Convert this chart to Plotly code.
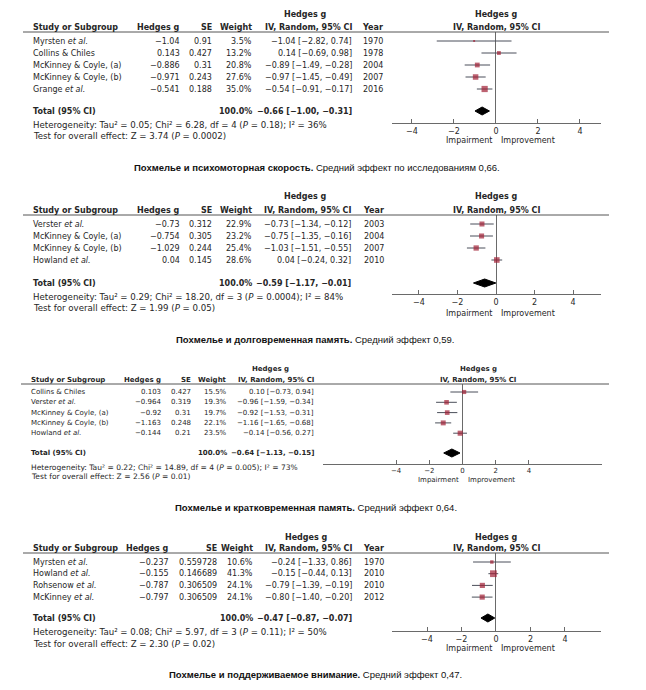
import math
import plotly.graph_objects as go

PAGE_W, PAGE_H = 646, 690
BODY = 8  # default body margin of the written page
W, H = PAGE_W - 2 * BODY, PAGE_H - 2 * BODY
MAROON = "#a11f35"
TXT = "#262626"
LINE = "#6a6a6a"
CI_COL = "#4b4f5a"
FONT = "DejaVu Sans"
CAP_FONT = "Liberation Sans"

# ---------------- data ----------------
# Panel 1: psychomotor speed
p1_study = ["Myrsten <i>et al.</i>", "Collins & Chiles", "McKinney & Coyle, (a)",
            "McKinney & Coyle, (b)", "Grange <i>et al.</i>"]
p1_g = [-1.04, 0.143, -0.886, -0.971, -0.541]
p1_se = [0.91, 0.427, 0.31, 0.243, 0.188]
p1_weight = [3.5, 13.2, 20.8, 27.6, 35.0]
p1_est = [-1.04, 0.14, -0.89, -0.97, -0.54]
p1_lo = [-2.82, -0.69, -1.49, -1.45, -0.91]
p1_hi = [0.74, 0.98, -0.28, -0.49, -0.17]
p1_year = [1970, 1978, 2004, 2007, 2016]
p1_total = [-0.66, -1.00, -0.31]
p1_total_weight = 100.0
p1_het = "Heterogeneity: Tau² = 0.05; Chi² = 6.28, df = 4 (<i>P</i> = 0.18); I² = 36%"
p1_test = "Test for overall effect: Z = 3.74 (<i>P</i> = 0.0002)"
p1_cap_b = "Похмелье и психомоторная скорость."
p1_cap = " Средний эффект по исследованиям 0,66."

# Panel 2: long-term memory
p2_study = ["Verster <i>et al.</i>", "McKinney & Coyle, (a)", "McKinney & Coyle, (b)",
            "Howland <i>et al.</i>"]
p2_g = [-0.73, -0.754, -1.029, 0.04]
p2_se = [0.312, 0.305, 0.244, 0.145]
p2_weight = [22.9, 23.2, 25.4, 28.6]
p2_est = [-0.73, -0.75, -1.03, 0.04]
p2_lo = [-1.34, -1.35, -1.51, -0.24]
p2_hi = [-0.12, -0.16, -0.55, 0.32]
p2_year = [2003, 2004, 2007, 2010]
p2_total = [-0.59, -1.17, -0.01]
p2_total_weight = 100.0
p2_het = "Heterogeneity: Tau² = 0.29; Chi² = 18.20, df = 3 (<i>P</i> = 0.0004); I² = 84%"
p2_test = "Test for overall effect: Z = 1.99 (<i>P</i> = 0.05)"
p2_cap_b = "Похмелье и долговременная память."
p2_cap = " Средний эффект 0,59."

# Panel 3: short-term memory
p3_study = ["Collins & Chiles", "Verster <i>et al.</i>", "McKinney & Coyle, (a)",
            "McKinney & Coyle, (b)", "Howland <i>et al.</i>"]
p3_g = [0.103, -0.964, -0.92, -1.163, -0.144]
p3_se = [0.427, 0.319, 0.31, 0.248, 0.21]
p3_weight = [15.5, 19.3, 19.7, 22.1, 23.5]
p3_est = [0.10, -0.96, -0.92, -1.16, -0.14]
p3_lo = [-0.73, -1.59, -1.53, -1.65, -0.56]
p3_hi = [0.94, -0.34, -0.31, -0.68, 0.27]
p3_year = None
p3_total = [-0.64, -1.13, -0.15]
p3_total_weight = 100.0
p3_het = "Heterogeneity: Tau² = 0.22; Chi² = 14.89, df = 4 (<i>P</i> = 0.005); I² = 73%"
p3_test = "Test for overall effect: Z = 2.56 (<i>P</i> = 0.01)"
p3_cap_b = "Похмелье и кратковременная память."
p3_cap = " Средний эффект 0,64."

# Panel 4: sustained attention
p4_study = ["Myrsten <i>et al.</i>", "Howland <i>et al.</i>", "Rohsenow <i>et al.</i>",
            "McKinney <i>et al.</i>"]
p4_g = [-0.237, -0.155, -0.787, -0.797]
p4_se = ["0.559728", "0.146689", "0.306509", "0.306509"]
p4_weight = [10.6, 41.3, 24.1, 24.1]
p4_est = [-0.24, -0.15, -0.79, -0.80]
p4_lo = [-1.33, -0.44, -1.39, -1.40]
p4_hi = [0.86, 0.13, -0.19, -0.20]
p4_year = [1970, 2010, 2010, 2012]
p4_total = [-0.47, -0.87, -0.07]
p4_total_weight = 100.0
p4_het = "Heterogeneity: Tau² = 0.08; Chi² = 5.97, df = 3 (<i>P</i> = 0.11); I² = 50%"
p4_test = "Test for overall effect: Z = 2.30 (<i>P</i> = 0.02)"
p4_cap_b = "Похмелье и поддерживаемое внимание."
p4_cap = " Средний эффект 0,47."

tick_vals = [-4, -2, 0, 2, 4]

# ---------------- layout geometry (page pixels) ----------------
geoms = [
    dict(r0=41, s=12, tot=111, line=32, axis=123, xdom=(392, 601), xr=(-4.95, 5.0),
         cols=(31, 182, 214, 254, 354, 385), fs=8, top_y=15, hdr_y=27, hdr_cx=305,
         plot_cx=496, het_y=125, test_y=136, imp_y=140, cap_y=167, cap_cx=317),
    dict(r0=224, s=12, tot=283, line=215, axis=294, xdom=(392, 601), xr=(-5.4, 5.45),
         cols=(31, 182, 214, 254, 353, 386), fs=8, top_y=197, hdr_y=210, hdr_cx=305,
         plot_cx=496, het_y=297, test_y=308, imp_y=313, cap_y=339, cap_cx=315),
    dict(r0=392, s=10.3, tot=453, line=384, axis=464, xdom=(323, 602), xr=(-8.4, 8.4),
         cols=(29, 163, 193, 229, 316, None), fs=7, top_y=369, hdr_y=380, hdr_cx=270,
         plot_cx=478, het_y=467, test_y=476, imp_y=480, cap_y=507, cap_cx=316),
    dict(r0=562, s=11.7, tot=618, line=553, axis=631, xdom=(392, 601), xr=(-6.03, 6.09),
         cols=(31, 171, 219, 255, 354, 386), fs=8, top_y=537, hdr_y=548, hdr_cx=306,
         plot_cx=496, het_y=632, test_y=644, imp_y=648, cap_y=674, cap_cx=315),
]

panels = [
    (p1_study, p1_g, p1_se, p1_weight, p1_est, p1_lo, p1_hi, p1_year, p1_total, p1_total_weight, p1_het, p1_test, p1_cap_b, p1_cap),
    (p2_study, p2_g, p2_se, p2_weight, p2_est, p2_lo, p2_hi, p2_year, p2_total, p2_total_weight, p2_het, p2_test, p2_cap_b, p2_cap),
    (p3_study, p3_g, p3_se, p3_weight, p3_est, p3_lo, p3_hi, p3_year, p3_total, p3_total_weight, p3_het, p3_test, p3_cap_b, p3_cap),
    (p4_study, p4_g, p4_se, p4_weight, p4_est, p4_lo, p4_hi, p4_year, p4_total, p4_total_weight, p4_het, p4_test, p4_cap_b, p4_cap),
]


def px(x):
    return (x - BODY) / W


def py(y):
    return 1 - (y - BODY) / H


def m(v):
    return str(v).replace("-", "−")


def f2(v):
    return f"{v:.2f}".replace("-", "−")


fig = go.Figure()
annotations = []
shapes = []
layout_axes = {}

for k, (pdata, g) in enumerate(zip(panels, geoms), start=1):
    study, hg, se, wt, est, lo, hi, year, total, tw, het, test, cap_b, cap = pdata
    n = len(study)
    xa = "x" if k == 1 else f"x{k}"
    ya = "y" if k == 1 else f"y{k}"
    xname = "xaxis" if k == 1 else f"xaxis{k}"
    yname = "yaxis" if k == 1 else f"yaxis{k}"
    fs = g["fs"]
    font = dict(family=FONT, size=fs, color=TXT)
    foot_font = dict(family=FONT, size=fs * 1.08, color=TXT)
    rows = list(range(n))
    t_idx = (g["tot"] - g["r0"]) / g["s"]
    y_bottom = (g["axis"] - g["r0"]) / g["s"]
    y_top = (g["line"] - g["r0"]) / g["s"]

    layout_axes[yname] = dict(domain=[py(g["axis"]), py(g["line"])], range=[y_bottom, y_top],
                              visible=False, anchor=xa, fixedrange=True)
    layout_axes[xname] = dict(domain=[px(g["xdom"][0]), px(g["xdom"][1])], range=list(g["xr"]),
                              anchor=ya, showline=True, linecolor=LINE, linewidth=1,
                              ticks="inside", ticklen=4, tickcolor=LINE, tickwidth=1,
                              tickvals=tick_vals, showgrid=False, zeroline=True,
                              zerolinecolor=LINE, zerolinewidth=1,
                              tickfont=dict(family=FONT, size=fs, color=TXT),
                              ticklabelstandoff=0)

    # confidence intervals
    ci_x, ci_y = [], []
    for i in rows:
        ci_x += [lo[i], hi[i], None]
        ci_y += [i, i, None]
    fig.add_trace(go.Scatter(x=ci_x, y=ci_y, xaxis=xa, yaxis=ya, mode="lines",
                             line=dict(color=CI_COL, width=1), showlegend=False,
                             hoverinfo="skip"))
    # weighted squares
    fig.add_trace(go.Scatter(
        x=est, y=rows, xaxis=xa, yaxis=ya, mode="markers", showlegend=False,
        marker=dict(symbol="square", color=MAROON, size=[1.05 * math.sqrt(w) for w in wt],
                    line=dict(width=0)),
        hoverinfo="skip"))

    # total diamond
    hh = 4.0 / g["s"]
    te, tl, th = total
    fig.add_trace(go.Scatter(
        x=[tl, te, th, te, tl], y=[t_idx, t_idx - hh, t_idx, t_idx + hh, t_idx],
        xaxis=xa, yaxis=ya, mode="lines", fill="toself", fillcolor="black",
        line=dict(color="black", width=1), showlegend=False, hoverinfo="skip"))

    c_study, c_g, c_se, c_w, c_ci, c_year = g["cols"]

    def ann(text, x, y, xanchor, yref="paper", bold=False, fnt=font, xref="paper"):
        annotations.append(dict(
            text=f"<b>{text}</b>" if bold else text, x=x, y=y, xref=xref, yref=yref,
            xanchor=xanchor, yanchor="middle", showarrow=False, font=fnt))

    # headers
    ann("Hedges g", px(g["hdr_cx"]), py(g["top_y"]), "center", bold=True)
    ann("Hedges g", px(g["plot_cx"]), py(g["top_y"]), "center", bold=True)
    ann("IV, Random, 95% CI", px(g["plot_cx"]), py(g["hdr_y"]), "center", bold=True)
    ann("Study or Subgroup", px(c_study), py(g["hdr_y"]), "left", bold=True)
    ann("Hedges g", px(c_g), py(g["hdr_y"]), "right", bold=True)
    ann("SE", px(c_se), py(g["hdr_y"]), "right", bold=True)
    ann("Weight", px(c_w), py(g["hdr_y"]), "right", bold=True)
    ann("IV, Random, 95% CI", px(c_ci), py(g["hdr_y"]), "right", bold=True)
    if c_year is not None:
        ann("Year", px(c_year), py(g["hdr_y"]), "right", bold=True)

    # study rows
    for i in range(n):
        ann(study[i], px(c_study), i, "left", yref=ya)
        ann(m(hg[i]), px(c_g), i, "right", yref=ya)
        ann(m(se[i]), px(c_se), i, "right", yref=ya)
        ann(f"{wt[i]:.1f}%", px(c_w), i, "right", yref=ya)
        ann(f"{f2(est[i])} [{f2(lo[i])}, {f2(hi[i])}]", px(c_ci), i, "right", yref=ya)
        if c_year is not None and year is not None:
            ann(str(year[i]), px(c_year), i, "right", yref=ya)

    # total row
    ann("Total (95% CI)", px(c_study), t_idx, "left", yref=ya, bold=True)
    ann(f"{tw:.1f}%", px(c_w), t_idx, "right", yref=ya, bold=True)
    ann(f"{f2(te)} [{f2(tl)}, {f2(th)}]", px(c_ci), t_idx, "right", yref=ya, bold=True)

    ann(het, px(c_study), py(g["het_y"]), "left", fnt=foot_font)
    ann(test, px(c_study), py(g["test_y"]), "left", fnt=foot_font)

    # impairment / improvement
    annotations.append(dict(text="Impairment", x=0, y=py(g["imp_y"]), xref=xa, yref="paper",
                            xanchor="right", yanchor="middle", xshift=-2, showarrow=False, font=font))
    annotations.append(dict(text="Improvement", x=0, y=py(g["imp_y"]), xref=xa, yref="paper",
                            xanchor="left", yanchor="middle", xshift=3, showarrow=False, font=font))

    # header rule
    shapes.append(dict(type="line", xref="paper", yref="paper", x0=px(c_study - 8), x1=px(609),
                       y0=py(g["line"]), y1=py(g["line"]), line=dict(color="#555555", width=1)))

    # caption
    annotations.append(dict(text=f"<b>{cap_b}</b>{cap}", x=px(g["cap_cx"]), y=py(g["cap_y"]),
                            xref="paper", yref="paper", xanchor="center", yanchor="middle",
                            showarrow=False, font=dict(family=CAP_FONT, size=9.5, color="#111111")))

fig.update_layout(
    width=W, height=H, margin=dict(l=0, r=0, t=0, b=0),
    paper_bgcolor="white", plot_bgcolor="white", showlegend=False,
    annotations=annotations, shapes=shapes, **layout_axes)

fig.write_html("out.html")
